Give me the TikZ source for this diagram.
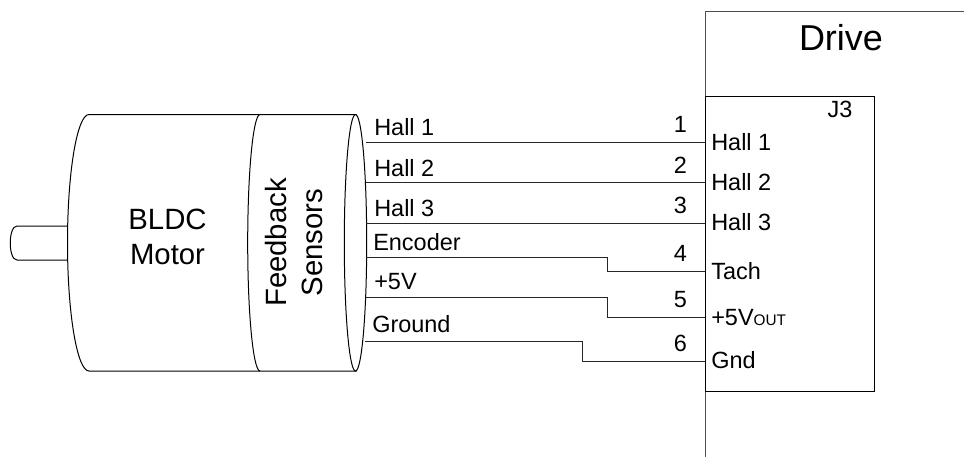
\documentclass[tikz,border=0pt]{standalone}
\usepackage{fontspec}
\setmainfont{Liberation Sans}
\newcommand{\sizeS}{\fontsize{17.6pt}{20pt}\selectfont}
\newcommand{\sizeOut}{\fontsize{11.5pt}{14pt}\selectfont}
\newcommand{\sizeL}{\fontsize{22pt}{26pt}\selectfont}
\newcommand{\sizeXL}{\fontsize{27pt}{32pt}\selectfont}
\begin{document}
\begin{tikzpicture}[x=0.75pt,y=-0.75pt,
  outline/.style={draw=black,line width=0.75pt},
  wire/.style={draw=black!85,line width=0.75pt},
  sig/.style={inner sep=0pt,anchor=base west,font=\sizeS},
  pinnum/.style={inner sep=0pt,anchor=base,font=\sizeS},
  big/.style={inner sep=0pt,anchor=base,font=\sizeL}]
\useasboundingbox (0,0) rectangle (964,457);
% shaft
\draw[outline] (67.5,226) -- (17,226) .. controls (8,226) and (8,260) .. (17,260) -- (67.5,260);
% motor body
\draw[outline] (356.5,114.5) -- (89,114.5) arc[start angle=-90,end angle=-270,x radius=21.5,y radius=128.25] -- (356.5,371);
\draw[outline] (260,114.5) arc[start angle=-90,end angle=-270,x radius=12.3,y radius=128.25];
\draw[outline] (355.5,242.75) ellipse[x radius=11.2,y radius=128.25];
% drive
\draw[draw=black!70,line width=0.75pt] (964,11) -- (705,11) -- (705,457);
\node[draw=black,line width=0.75pt,minimum width=168.7*0.75pt,minimum height=295.5*0.75pt,inner sep=0pt,anchor=north west] (jbox) at (705,95.5) {};
% endpoints
\coordinate (m1) at (366,142.5);
\coordinate (m2) at (366,182.7);
\coordinate (m3) at (366,223);
\coordinate (m4) at (366,257.5);
\coordinate (m5) at (366,297.5);
\coordinate (m6) at (365,341);
\coordinate (j1) at (705,142.5);
\coordinate (j2) at (705,182.7);
\coordinate (j3) at (705,223);
\coordinate (j4) at (705,271.3);
\coordinate (j5) at (705,317.3);
\coordinate (j6) at (705,361);
\draw[wire] (m1) -- (j1);
\draw[wire] (m2) -- (j2);
\draw[wire] (m3) -- (j3);
\draw[wire] (m4) -- (607,257.5) -- (607,271.3) -- (j4);
\draw[wire] (m5) -- (607,297.5) -- (607,317.3) -- (j5);
\draw[wire] (m6) -- (582,341) -- (582,361) -- (j6);
% text
\node[big] (motora) at (167.5,229) {BLDC};
\node[big] (motorb) at (167.5,264) {Motor};
\node[big,rotate=90] (fba) at (286,242.5) {Feedback};
\node[big,rotate=90] (fbb) at (322,242.5) {Sensors};
\node[inner sep=0pt,anchor=base,font=\sizeXL] (drive) at (841,50.5) {Drive};
\node[pinnum] (j3lab) at (840,117) {J3};
\node[sig] (s1) at (374,135.5) {Hall 1};
\node[sig] (s2) at (374,176) {Hall 2};
\node[sig] (s3) at (374,216) {Hall 3};
\node[sig] (s4) at (373,250.5) {Encoder};
\node[sig] (s5) at (374,289) {+5V};
\node[sig] (s6) at (372,332.5) {Ground};
\node[pinnum] (n1) at (680.5,132) {1};
\node[pinnum] (n2) at (680.5,173) {2};
\node[pinnum] (n3) at (680.5,213) {3};
\node[pinnum] (n4) at (680.5,261) {4};
\node[pinnum] (n5) at (680.5,307) {5};
\node[pinnum] (n6) at (680.5,351) {6};
\node[sig] (p1) at (711,150.5) {Hall 1};
\node[sig] (p2) at (711,190.5) {Hall 2};
\node[sig] (p3) at (711,230.5) {Hall 3};
\node[sig] (p4) at (711,279) {Tach};
\node[sig] (p5) at (711,325) {+5V{\sizeOut OUT}};
\node[sig] (p6) at (711,368.5) {Gnd};
\end{tikzpicture}
\end{document}
